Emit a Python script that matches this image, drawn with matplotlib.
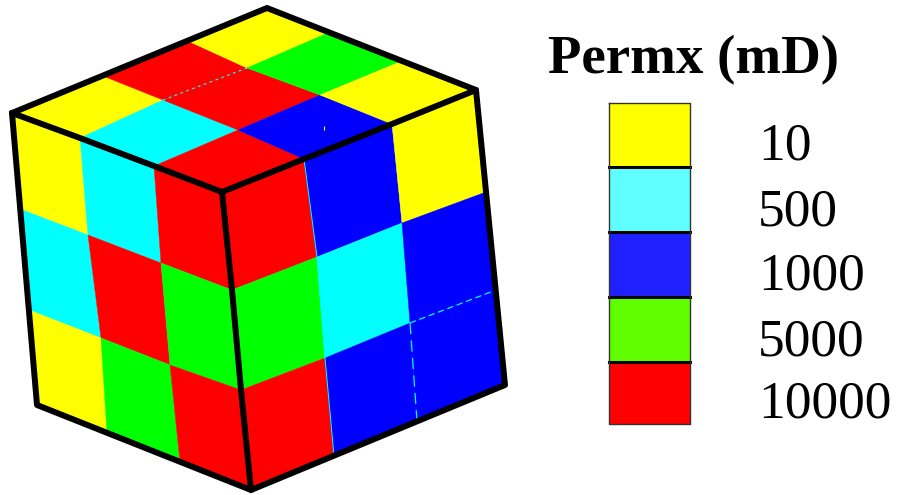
import numpy as np
import matplotlib
matplotlib.use('Agg')
import matplotlib.pyplot as plt
from matplotlib.colors import ListedColormap, BoundaryNorm

# permeability of each cell on the three visible faces
perm_top = [[10, 10000, 10],
            [500, 10000, 5000],
            [10000, 1000, 10]]
perm_left = [[10, 500, 10000],
             [500, 10000, 5000],
             [10, 5000, 10000]]
perm_right = [[10000, 1000, 10],
              [5000, 500, 1000],
              [10000, 1000, 1000]]

# corner point grids of the faces
top_x = [[12, 103, 188, 267],
         [80, 163, 247, 330],
         [154, 238, 320, 402],
         [222, 304, 392, 476]]
top_y = [[113, 75.5, 40.5, 8],
         [138, 100, 68, 32],
         [166, 130, 95, 61],
         [192, 159, 124, 90]]
left_x = [[12, 80, 154, 222],
          [20, 88, 161, 232],
          [29, 101, 170, 241],
          [37, 107, 180, 251]]
left_y = [[113, 138, 166, 192],
          [209, 235, 263, 290],
          [310, 338, 365, 390],
          [405, 433, 462, 490]]
right_x = [[222, 304, 392, 476],
           [232, 317, 402, 486],
           [241, 325, 410, 496],
           [251, 334, 417, 505]]
right_y = [[192, 159, 124, 90],
           [290, 257, 223, 192],
           [390, 358, 323, 290],
           [490, 456, 421, 385]]

legend_title = 'Permx (mD)'
legend_values = [10, 500, 1000, 5000, 10000]
legend_labels = ['10', '500', '1000', '5000', '10000']
legend_edges = [103, 167, 232, 297, 362, 424]
legend_baselines = [160, 226, 290, 355, 418]

face_colors = ['#ffff00', '#00ffff', '#0000ff', '#00ff00', '#ff0000']
key_colors = ['#ffff00', '#60ffff', '#2020ff', '#60ff00', '#ff0000']

bounds = [0, 100, 800, 3000, 8000, 20000]
norm = BoundaryNorm(bounds, 5)

fig = plt.figure(figsize=(8.97, 4.95), dpi=100)
ax = fig.add_axes([0, 0, 1, 1])
ax.set_xlim(0, 897)
ax.set_ylim(495, 0)
ax.axis('off')

faces = [(top_x, top_y, perm_top), (left_x, left_y, perm_left), (right_x, right_y, perm_right)]
for x, y, perm in faces:
    ax.pcolormesh(np.array(x), np.array(y), np.array(perm), cmap=ListedColormap(face_colors),
                  norm=norm, edgecolors='face', linewidth=0.3, antialiased=True)

# thin cyan seams that show between some cells
rx = np.array(right_x)
ry = np.array(right_y)
tx = np.array(top_x)
ty = np.array(top_y)
ax.plot(rx[:, 1], ry[:, 1], color='#00ffff', lw=0.7)
ax.plot(rx[2, 2:], ry[2, 2:], color='#00ffff', lw=0.9, ls=(0, (5, 3)))
ax.plot(rx[2:, 2], ry[2:, 2], color='#00ffff', lw=0.9, ls=(0, (9, 5)))
ax.plot(tx[1, 1:3], ty[1, 1:3], color='#00ffff', lw=0.9, ls=(0, (2, 3)))
ax.plot(324, 128, marker='|', ms=3, mew=0.8, color='#ffff00')

# black wire frame of the cube
lx = np.array(left_x)
ly = np.array(left_y)
hull_x = [lx[0, 0], tx[0, 3], tx[3, 3], rx[3, 3], rx[3, 0], lx[3, 0], lx[0, 0]]
hull_y = [ly[0, 0], ty[0, 3], ty[3, 3], ry[3, 3], ry[3, 0], ly[3, 0], ly[0, 0]]
ax.plot(hull_x, hull_y, color='black', lw=4.3, solid_joinstyle='round', solid_capstyle='round')
ax.plot(lx[0], ly[0], color='black', lw=4.3, solid_capstyle='round')
ax.plot(tx[3], ty[3], color='black', lw=4.3, solid_capstyle='round')
ax.plot(rx[:, 0], ry[:, 0], color='black', lw=4.3, solid_capstyle='round')

# colour key
ax.pcolormesh([609, 690], legend_edges, np.array(legend_values).reshape(-1, 1),
              cmap=ListedColormap(key_colors), norm=norm)
for e in legend_edges[1:-1]:
    ax.plot([609, 690], [e, e], color='black', lw=2.2)
ax.plot([609, 690, 690, 609, 609],
        [legend_edges[0], legend_edges[0], legend_edges[-1], legend_edges[-1], legend_edges[0]],
        color='#333333', lw=1)

ax.text(548, 73, legend_title, family='Liberation Serif', weight='bold', fontsize=39.5, va='baseline', ha='left')
for lab, b in zip(legend_labels, legend_baselines):
    ax.text(758, b, lab, family='Liberation Serif', fontsize=38.5, va='baseline', ha='left')

fig.savefig('out.png', dpi=100)
